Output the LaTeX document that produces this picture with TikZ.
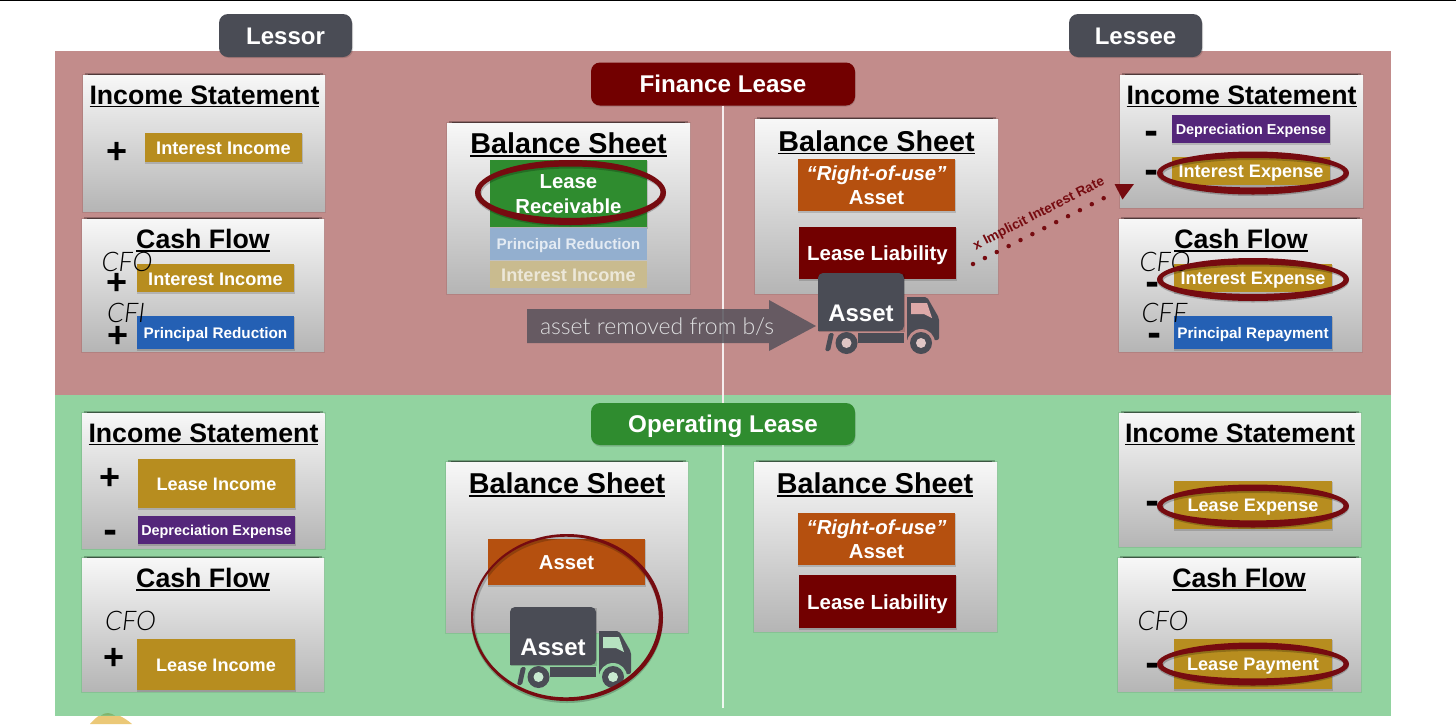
\documentclass[tikz,border=0pt]{standalone}
\usepackage{fontspec}
\setmainfont{Liberation Sans}
\newfontface\lightit{Lato Light Italic}
\newfontface\lightup{Lato Light}
\newfontface\heavy{DejaVu Sans Bold}
\usetikzlibrary{calc}
\definecolor{bgred}{HTML}{C28C8B}
\definecolor{bggreen}{HTML}{92D3A0}
\definecolor{slate}{HTML}{4A4C55}
\definecolor{maroon}{HTML}{720000}
\definecolor{leaf}{HTML}{2F8C2F}
\definecolor{gold}{HTML}{B78D1F}
\definecolor{violet}{HTML}{54267A}
\definecolor{royal}{HTML}{2460B4}
\definecolor{rust}{HTML}{B5500F}
\definecolor{ring}{HTML}{760B10}
\definecolor{fadeblue}{HTML}{93AFCF}
\definecolor{fadegold}{HTML}{C9BB8F}
\definecolor{winred}{HTML}{DDA9A8}
\definecolor{wingreen}{HTML}{B6E2C0}
\definecolor{sliver}{HTML}{EBC877}
\definecolor{sliverg}{HTML}{82B56C}
\newcommand\fs[2]{\fontsize{#1}{#2}\selectfont}
\newcommand\hd[1]{\setbox0\hbox{#1}\rlap{\rule[-3pt]{\wd0}{1.5pt}}\box0}
\newcommand\capc[1]{\raisebox{-.358em}[0pt][0pt]{#1}}
\tikzset{
  rectnode/.style={inner sep=0pt,outer sep=0pt,anchor=center},
  sheet/.style={rectnode,top color=white!97!black,bottom color=black!29!white},
  pill/.style={rectnode,rounded corners=9pt,text=white,font=\fs{24.2}{28}\bfseries},
  heading/.style={inner sep=0pt,font=\fs{26.7}{30}\bfseries,text=black},
  bsheading/.style={inner sep=0pt,font=\fs{28.7}{32}\bfseries,text=black},
  plussign/.style={inner sep=0pt,font=\fs{36}{36}\bfseries,text=black},
  minussign/.style={inner sep=0pt,font=\fs{34}{36}\heavy,text=black},
  flowlabel/.style={inner sep=0pt,font=\fs{27}{30}\lightit,text=black},
}
% name, x1, y1, x2, y2
\newcommand\sheetbox[5]{%
  \fill[black,opacity=.08] (#2-1,#3-1) rectangle (#4+1,#5+2);
  \fill[black,opacity=.25] (#2+2,#3-2.5) rectangle (#4-2,#3);
  \fill[black,opacity=.4] (#2+5,#3-1.2) rectangle (#4-5,#3);
  \node[sheet,minimum width={(#4-#2)*1pt},minimum height={(#5-#3)*1pt}] (#1) at ({(#2+#4)/2},{(#3+#5)/2}) {};
}
% name, fill, x1, y1, x2, y2, font, text
\newcommand\tagbox[8]{%
  \fill[black,opacity=.15] (#3,#4+.5) rectangle (#5+.5,#6+1.5);
  \node[rectnode,fill=#2,minimum width={(#5-#3)*1pt},minimum height={(#6-#4)*1pt}] (#1) at ({(#3+#5)/2},{(#4+#6)/2}) {};
  \node[inner sep=0pt,text=white,align=center,font=#7] (#1t) at ({(#3+#5)/2},{(#4+#6)/2+.5}) {#8};
}
% cx, cy, rx, ry
\newcommand\ringmark[4]{%
  \fill[black,opacity=.22,even odd rule] (#1,#2+1.5) ellipse [x radius=#3,y radius=#4] (#1+1,#2+1.5) ellipse [x radius=#3-5.5,y radius=#4-7];
  \fill[ring,even odd rule] (#1,#2) ellipse [x radius=#3,y radius=#4] (#1,#2-.3) ellipse [x radius=#3-5.5,y radius=#4-6.8];
}
% name, dx, dy, bg, window
\newcommand\truck[5]{%
  \begin{scope}[shift={(#2,#3)}]
    \fill[slate] (907,297) -- (924,297) [rounded corners=2pt] -- (927,297) -- (939,318) -- (939,340) [sharp corners] -- (907,340) -- cycle;
    \fill[#4] (921,343) circle [radius=14];
    \fill[#5] (911,303) -- (927,303) -- (932,318) -- (924,314) -- (911,314) -- cycle;
    \fill[slate] (858,333) rectangle (904,343);
    \fill[slate,rounded corners=1.5pt] (829,333) -- (834,333) -- (830,351) -- (825,351) -- cycle;
    \fill[slate] (846.5,343) circle [radius=11];
    \fill[#4!50!white] (846.5,343) circle [radius=5];
    \fill[slate] (921,343) circle [radius=11];
    \fill[#4!50!white] (921,343) circle [radius=5];
    \fill[black,opacity=.15] (819,274) rectangle (905,332);
    \fill[slate,rounded corners=5pt] (818,331) -- (818,273) -- (904,273) -- (904,331) [sharp corners] -- cycle;
    \node[inner sep=0pt,text=white,font=\fs{24}{28}\bfseries] (#1) at (861,313) {\capc{Asset}};
  \end{scope}
}
\begin{document}
\begin{tikzpicture}[x=1pt,y=-1pt]
\useasboundingbox (0,0) rectangle (1456,724);
\fill[white] (0,0) rectangle (1456,724);
\fill[black] (0,0) rectangle (1456,1.2);
% regions
\fill[sliver] (90,724) .. controls (97,716) and (102,713) .. (108,713) .. controls (115,713) and (124,717) .. (132,724) -- cycle;
\fill[bgred] (55,51) rectangle (1391,394.5);
\fill[bggreen] (55,394.5) rectangle (1391,715.5);
\fill[sliverg] (101,715.5) .. controls (104,713.5) and (106,713) .. (108,713) .. controls (110,713) and (112,714) .. (115,715.5) -- cycle;
% tabs
\fill[black,opacity=.15,rounded corners=9pt] (220,16) rectangle (353,58);
\node[pill,fill=slate,minimum width=133pt,minimum height=43pt,font=\fs{24}{28}\bfseries] (lessor) at (285.5,35.5) {\capc{Lessor}};
\fill[black,opacity=.15,rounded corners=9pt] (1070,16) rectangle (1203,58);
\node[pill,fill=slate,minimum width=133pt,minimum height=43pt,font=\fs{24}{28}\bfseries] (lessee) at (1135.5,35.5) {\capc{Lessee}};
\fill[black,opacity=.15,rounded corners=9pt] (591.5,63.5) rectangle (855.5,106.5);
\node[pill,fill=maroon,minimum width=264pt,minimum height=43pt] (finance) at (723,84) {\capc{Finance Lease}};
\fill[black,opacity=.15,rounded corners=9pt] (591.5,404.5) rectangle (855.5,446.5);
\node[pill,fill=leaf,minimum width=264pt,minimum height=42pt] (operating) at (723,424) {\capc{Operating Lease}};
\coordinate (midend) at (723,708);
\draw[white!85!bgred,line width=1.1pt] (finance.south) -- (operating.north);
\draw[white!85!bggreen,line width=1.1pt] (operating.south) -- (midend);

% ---- finance: lessor
\sheetbox{isa}{83}{75}{325}{211}
\node[heading] (isah) at (204.5,94.5) {\capc{\hd{Income Statement}}};
\tagbox{isai}{gold}{145}{133}{302}{162}{\fs{18.2}{22}\bfseries}{\capc{Interest Income}}
\node[plussign] (isap) at (117,153) {+};
\sheetbox{cfa}{82}{219}{324}{351}
\node[heading] (cfah) at (203,239) {\capc{\hd{Cash Flow}}};
\tagbox{cfai}{gold}{137}{264}{294}{292}{\fs{18.2}{22}\bfseries}{\capc{Interest Income}}
\tagbox{cfap}{royal}{137}{316}{294}{349}{\fs{15.3}{18}\bfseries}{\capc{Principal Reduction}}
\node[plussign] (cfap1) at (117,283.7) {+};
\node[plussign] (cfap2) at (118,337) {+};
\node[flowlabel] (cfao) at (127,261.5) {\capc{CFO}};
\node[flowlabel] (cfaf) at (126,312.5) {\capc{CFI}};

% ---- finance: balance sheets
\sheetbox{bsa}{447}{123}{690}{293}
\node[bsheading] (bsah) at (568.5,143.5) {\capc{\hd{Balance Sheet}}};
\tagbox{bsar}{leaf}{490}{160}{647}{227}{\fs{20.3}{24.8}\bfseries}{Lease\\Receivable}
\node[rectnode,fill=fadeblue,minimum width=157pt,minimum height=32pt] (bsap) at (568.5,244) {};
\node[inner sep=0pt,text=white!75!fadeblue,font=\fs{15.3}{18}\bfseries] (bsapt) at (568.5,244) {\capc{Principal Reduction}};
\node[rectnode,fill=fadegold,minimum width=157pt,minimum height=27pt] (bsai) at (568.5,274.5) {};
\node[inner sep=0pt,text=white!65!fadegold,font=\fs{18.2}{22}\bfseries] (bsait) at (568.5,274.5) {\capc{Interest Income}};
\ringmark{570.5}{192.5}{95.5}{32.5}
\sheetbox{bsb}{755}{119}{998}{293}
\node[bsheading] (bsbh) at (876.5,141) {\capc{\hd{Balance Sheet}}};
\tagbox{bsbr}{rust}{798}{159}{955}{211}{\fs{20.3}{24}\bfseries}{{\itshape “Right-of-use”}\\Asset}
\tagbox{bsbl}{maroon}{799}{227}{956}{279}{\fs{20.4}{24}\bfseries}{\capc{Lease Liability}}

% arrow + truck
\fill[slate!90!bgred,opacity=.85] (527,309) -- (769,309) -- (769,300) -- (816,326) -- (769,351) -- (769,343) -- (527,343) -- cycle;
\node[inner sep=0pt,text=white!82!slate,font=\fs{23}{26}\lightup] (removed) at (657,326) {\capc{asset removed from b/s}};
\truck{truckA}{0}{0}{bgred}{winred}

% ---- finance: lessee
\sheetbox{isb}{1120}{75}{1363}{207}
\node[heading] (isbh) at (1241.5,94.5) {\capc{\hd{Income Statement}}};
\tagbox{isbd}{violet}{1172}{115}{1330}{143}{\fs{14.4}{18}\bfseries}{\capc{Depreciation Expense}}
\tagbox{isbi}{gold}{1172}{157}{1330}{185}{\fs{18.1}{22}\bfseries}{\capc{Interest Expense}}
\node[minussign] (isbm1) at (1151.5,137) {-};
\node[minussign] (isbm2) at (1151.5,176) {-};
\ringmark{1253}{173}{96}{21.5}
\sheetbox{cfb}{1119}{219}{1362}{351}
\node[heading] (cfbh) at (1241,239) {\capc{\hd{Cash Flow}}};
\tagbox{cfbi}{gold}{1174}{264}{1332}{292}{\fs{18.1}{22}\bfseries}{\capc{Interest Expense}}
\tagbox{cfbp}{royal}{1174}{316}{1332}{349}{\fs{15.3}{18}\bfseries}{\capc{Principal Repayment}}
\node[minussign] (cfbm1) at (1153,288) {-};
\node[minussign] (cfbm2) at (1155,339) {-};
\node[flowlabel] (cfbo) at (1165,261.5) {\capc{CFO}};
\node[flowlabel] (cfbf) at (1164.5,312.5) {\capc{CFF}};
\ringmark{1253}{279.5}{96}{21.5}

% dotted connector
\coordinate (rateA) at (973,264);
\coordinate (rateB) at (1110,195);
\draw[ring,line width=4.5pt,line cap=round,dash pattern=on 0pt off 13.3pt] (rateA) -- (rateB);
\fill[ring] (1114.5,184) -- (1134,184) -- (1122.5,199.5) -- cycle;
\node[inner sep=0pt,text=ring,rotate=27,font=\fs{13.6}{14}\bfseries] (rate) at (1039,214) {x Implicit Interest Rate};

% ---- operating: lessor
\sheetbox{isc}{82}{413}{324.5}{548}
\node[heading] (isch) at (203.5,432.7) {\capc{\hd{Income Statement}}};
\tagbox{isci}{gold}{138}{459}{295}{508}{\fs{18.1}{22}\bfseries}{\capc{Lease Income}}
\tagbox{iscd}{violet}{138}{516}{295}{544}{\fs{14.4}{18}\bfseries}{\capc{Depreciation Expense}}
\node[plussign] (iscp) at (110,479) {+};
\node[minussign] (iscm) at (110.5,536.5) {-};
\sheetbox{cfc}{82}{558}{324}{691}
\node[heading] (cfch) at (203,578) {\capc{\hd{Cash Flow}}};
\tagbox{cfci}{gold}{137}{639}{295}{690}{\fs{18.1}{22}\bfseries}{\capc{Lease Income}}
\node[plussign] (cfcp) at (114.5,658.7) {+};
\node[flowlabel] (cfco) at (130.5,621) {\capc{CFO}};

% ---- operating: balance sheets
\sheetbox{bsc}{446}{462}{688}{632}
\node[bsheading] (bsch) at (567,483.7) {\capc{\hd{Balance Sheet}}};
\tagbox{bsca}{rust}{488}{539}{645}{585}{\fs{20.2}{24}\bfseries}{\capc{Asset}}
\truck{truckB}{-308}{334}{bggreen}{wingreen}
\fill[black,opacity=.2,even odd rule] (567,619) ellipse [x radius=96,y radius=84] (567,619) ellipse [x radius=92,y radius=80];
\fill[ring,even odd rule] (567,617.5) ellipse [x radius=96,y radius=83.5] (566,617) ellipse [x radius=92.8,y radius=80.3];
\sheetbox{bsd}{754}{462}{997}{631}
\node[bsheading] (bsdh) at (875,483.7) {\capc{\hd{Balance Sheet}}};
\tagbox{bsdr}{rust}{798}{513}{955}{565}{\fs{20.3}{24}\bfseries}{{\itshape “Right-of-use”}\\Asset}
\tagbox{bsdl}{maroon}{799}{575}{956}{628}{\fs{20.4}{24}\bfseries}{\capc{Lease Liability}}

% ---- operating: lessee
\sheetbox{isd}{1119}{413}{1361}{546}
\node[heading] (isdh) at (1240,432.7) {\capc{\hd{Income Statement}}};
\tagbox{isde}{gold}{1174}{481}{1332}{529}{\fs{18.1}{22}\bfseries}{\capc{Lease Expense}}
\node[minussign] (isdm) at (1153,507.5) {-};
\ringmark{1253}{506}{96}{21.5}
\sheetbox{cfd}{1118}{558}{1361}{691}
\node[heading] (cfdh) at (1239,578) {\capc{\hd{Cash Flow}}};
\tagbox{cfdp}{gold}{1174}{639}{1332}{689}{\fs{18.1}{22}\bfseries}{\capc{Lease Payment}}
\node[minussign] (cfdm) at (1153,669.7) {-};
\node[flowlabel] (cfdo) at (1163,621) {\capc{CFO}};
\ringmark{1253}{664}{96}{21.5}
\end{tikzpicture}
\end{document}
